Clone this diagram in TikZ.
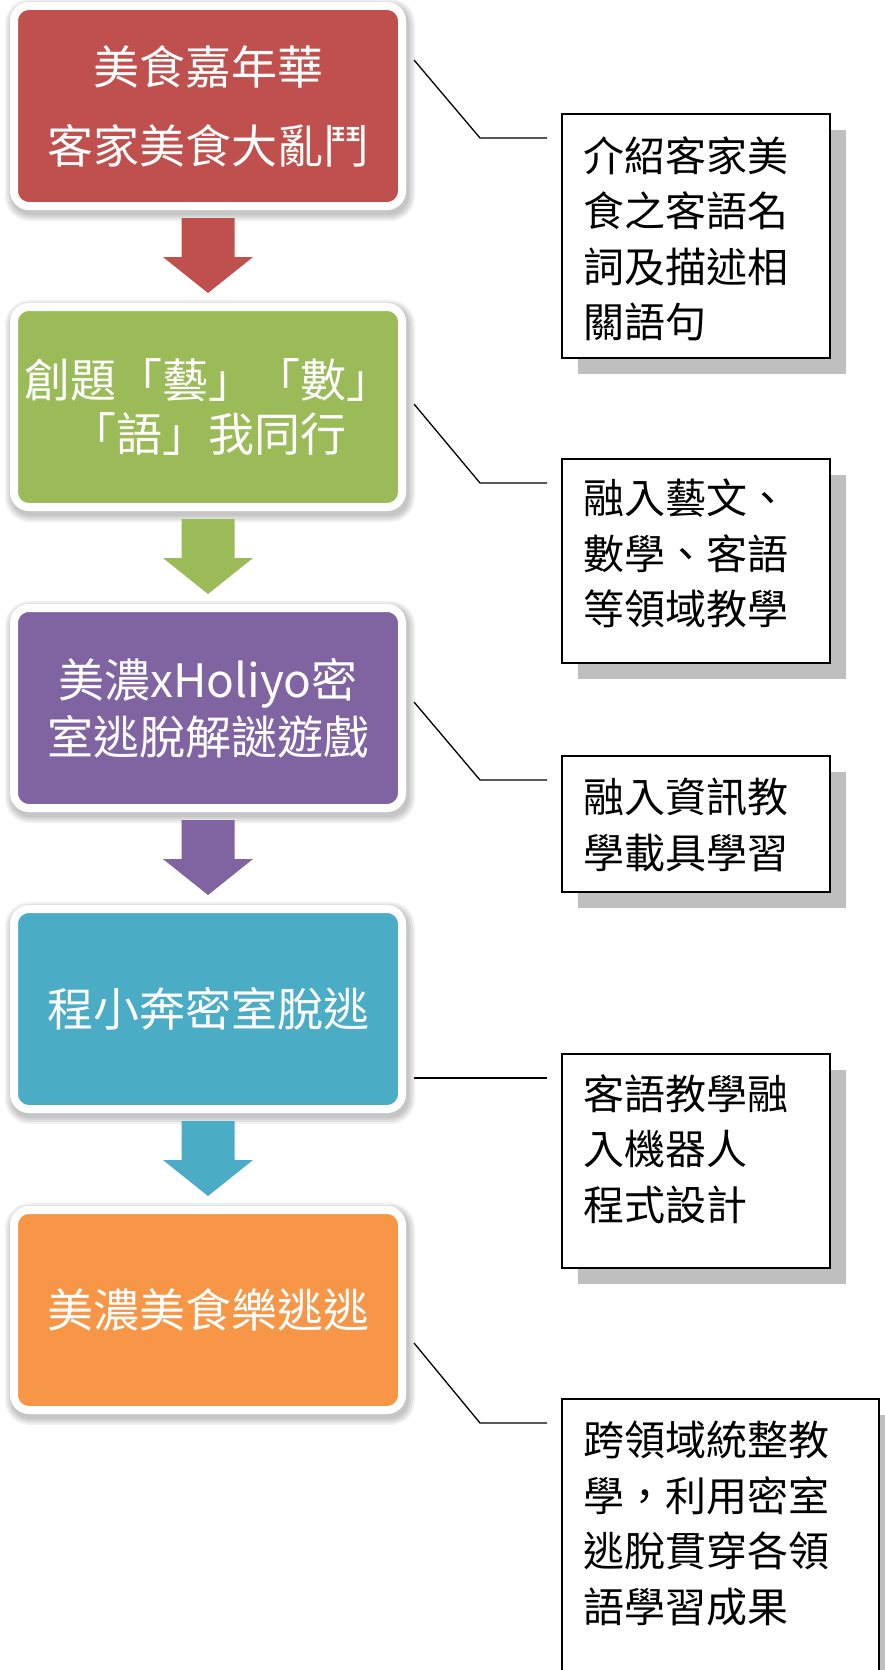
\documentclass[tikz,border=0pt]{standalone}
\usepackage{fontspec}
\setmainfont{Noto Sans CJK TC}
\usetikzlibrary{calc}
\definecolor{cred}{HTML}{C0504D}
\definecolor{cgreen}{HTML}{9BBB59}
\definecolor{cpurple}{HTML}{8064A2}
\definecolor{cteal}{HTML}{4BACC6}
\definecolor{corange}{HTML}{F79646}
\definecolor{cshadow}{HTML}{BFBFBF}
\begin{document}
\begin{tikzpicture}[x=1pt,y=-1pt,
  mainbox/.style={rectangle, rounded corners=15pt, draw=white, line width=8pt,
    minimum width=388pt, minimum height=200pt, inner sep=0pt, outer sep=0pt,
    text=white, align=center},
  softshade/.style={fill=black, fill opacity=0.06},
  sidebox/.style={rectangle, draw=black, line width=1.3pt, fill=white,
    inner sep=0pt, outer sep=0pt, anchor=north west},
  sideshadow/.style={fill=cshadow, draw=none},
  sidetext/.style={anchor=north west, align=left, inner sep=0pt,
    font=\fontsize{41}{55.5}\selectfont},
  link/.style={draw=black, line width=1.3pt},
  ]
\clip (0,0) rectangle (885,1670);
\fill[white] (0,0) rectangle (885,1670);

% soft shadows of the main boxes
\foreach \cy in {106,407,708,1009,1310}{
  \foreach \e in {0,2,4,6}{
    \fill[softshade, rounded corners={19pt+\e pt}]
      (208-197-\e, \cy-101-\e) rectangle (208+201+\e, \cy+109+\e);
  }
}

% main boxes
\node[mainbox, fill=cred, font=\fontsize{46}{79}\selectfont] (b1) at (208,106)
  {美食嘉年華\\客家美食大亂鬥};
\node[mainbox, fill=cgreen, font=\fontsize{46}{54}\selectfont] (b2) at (208,407)
  {創題「藝」「數」\\「語」我同行};
\node[mainbox, fill=cpurple, font=\fontsize{46}{57}\selectfont] (b3) at (208,708)
  {美濃xHoliyo密\\室逃脫解謎遊戲};
\node[mainbox, fill=cteal, font=\fontsize{46}{56}\selectfont] (b4) at (208,1009)
  {程小奔密室脫逃};
\node[mainbox, fill=corange, font=\fontsize{46}{56}\selectfont] (b5) at (208,1310)
  {美濃美食樂逃逃};

% block arrows between main boxes
\foreach \a/\c in {b1/cred,b2/cgreen,b3/cpurple,b4/cteal}{
  \fill[\c] ($(\a.south)+(-26.5,12)$) -- ($(\a.south)+(26.5,12)$)
    -- ($(\a.south)+(26.5,51)$) -- ($(\a.south)+(45,51)$)
    -- ($(\a.south)+(0,87)$) -- ($(\a.south)+(-45,51)$)
    -- ($(\a.south)+(-26.5,51)$) -- cycle;
}

% side boxes with shadows
\fill[sideshadow] (578,130) rectangle (846,374);
\node[sidebox, minimum width=268pt, minimum height=244pt] (s1) at (562,114) {};
\fill[sideshadow] (578,475) rectangle (846,679);
\node[sidebox, minimum width=268pt, minimum height=204pt] (s2) at (562,459) {};
\fill[sideshadow] (578,772) rectangle (846,908);
\node[sidebox, minimum width=268pt, minimum height=136pt] (s3) at (562,756) {};
\fill[sideshadow] (578,1070) rectangle (846,1284);
\node[sidebox, minimum width=268pt, minimum height=214pt] (s4) at (562,1054) {};
\fill[sideshadow] (578,1415) rectangle (895,1720);
\node[sidebox, minimum width=317pt, minimum height=300pt] (s5) at (562,1399) {};

% side texts
\node[sidetext] (t1) at ($(s1.north west)+(21,22)$) {介紹客家美\\食之客語名\\詞及描述相\\關語句};
\node[sidetext] (t2) at ($(s2.north west)+(21,20)$) {融入藝文、\\數學、客語\\等領域教學};
\node[sidetext] (t3) at ($(s3.north west)+(21,22)$) {融入資訊教\\學載具學習};
\node[sidetext] (t4) at ($(s4.north west)+(21,20)$) {客語教學融\\入機器人\\程式設計};
\node[sidetext] (t5) at ($(s5.north west)+(21,22)$) {跨領域統整教\\學，利用密室\\逃脫貫穿各領\\語學習成果};

% connectors
\coordinate (c1a) at ($(b1.east)+(12,-46)$);
\coordinate (c1b) at ($(s1.north west)+(-82,24)$);
\coordinate (c1c) at ($(s1.north west)+(-15,24)$);
\coordinate (c2a) at ($(b2.east)+(12,-3)$);
\coordinate (c2b) at ($(s2.north west)+(-82,24)$);
\coordinate (c2c) at ($(s2.north west)+(-15,24)$);
\coordinate (c3a) at ($(b3.east)+(12,-6)$);
\coordinate (c3b) at ($(s3.north west)+(-82,24)$);
\coordinate (c3c) at ($(s3.north west)+(-15,24)$);
\coordinate (c4a) at ($(b4.east)+(12,69)$);
\coordinate (c4c) at ($(s4.north west)+(-15,24)$);
\coordinate (c5a) at ($(b5.east)+(12,33)$);
\coordinate (c5b) at ($(s5.north west)+(-82,24)$);
\coordinate (c5c) at ($(s5.north west)+(-15,24)$);
\draw[link] (c1a) -- (c1b) -- (c1c);
\draw[link] (c2a) -- (c2b) -- (c2c);
\draw[link] (c3a) -- (c3b) -- (c3c);
\draw[link] (c4a) -- (c4c);
\draw[link] (c5a) -- (c5b) -- (c5c);
\end{tikzpicture}
\end{document}
